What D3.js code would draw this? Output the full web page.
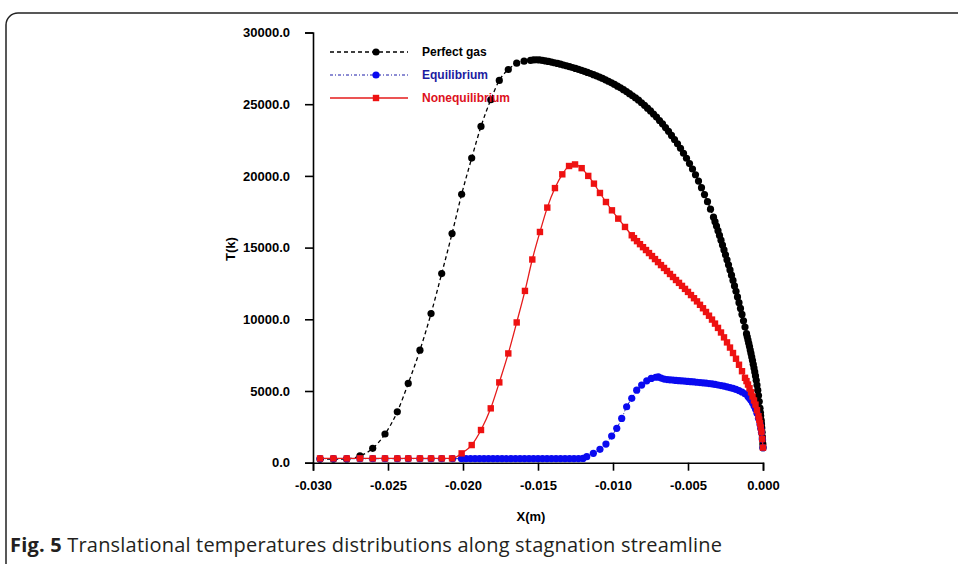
<!DOCTYPE html>
<html>
<head>
<meta charset="utf-8">
<script src="https://cdn.jsdelivr.net/npm/d3@7"></script>
<style>
  body { margin: 0; background: #fff; }
  svg { display: block; }
  .tick text { font-family: "Liberation Sans", Arial, sans-serif; font-weight: bold; font-size: 13px; fill: #000; }
</style>
</head>
<body>
<svg width="958" height="564"></svg>
<script>
// perfect gas (x in m, T in K)
let perfectX = [-0.02953, -0.02864, -0.02775, -0.02687, -0.02602, -0.0252, -0.02438, -0.02365, -0.02287, -0.02213,
  -0.02142, -0.02073, -0.02009, -0.01942, -0.0188, -0.01815, -0.01758, -0.01698, -0.01642, -0.01593,
  -0.0155, -0.0153, -0.0151, -0.0149, -0.0147, -0.0145, -0.0143, -0.0141, -0.0139, -0.0137,
  -0.0135, -0.0133, -0.0131, -0.0129, -0.0127, -0.0125, -0.0123, -0.0121, -0.0119, -0.0117,
  -0.0115, -0.0113, -0.0111, -0.0109, -0.0107, -0.0105, -0.0103, -0.0101, -0.0099, -0.0097,
  -0.0095, -0.0093, -0.0091, -0.0089, -0.0087, -0.0085, -0.0083, -0.0081, -0.0079, -0.0077,
  -0.0075, -0.0073, -0.0071, -0.0069, -0.0067, -0.0065, -0.0063, -0.0061, -0.0059, -0.0057,
  -0.0055, -0.0053, -0.0051, -0.0049, -0.0047, -0.0045, -0.0043, -0.0041, -0.0039, -0.0037,
  -0.0035, -0.0033, -0.0032, -0.0031, -0.003, -0.0029, -0.0028, -0.0027, -0.0026, -0.0025,
  -0.0024, -0.0023, -0.0022, -0.0021, -0.002, -0.0019, -0.0018, -0.0017, -0.0016, -0.0015,
  -0.0014, -0.0013, -0.0012, -0.0011, -0.00105, -0.001, -0.00095, -0.0009, -0.00085, -0.0008,
  -0.00075, -0.0007, -0.00065, -0.0006, -0.00055, -0.0005, -0.00045, -0.0004, -0.00035, -0.0003,
  -0.00025, -0.0002, -0.00017, -0.00015, -0.00012, -0.0001, -0.00008, -0.00006, -0.00004, -0.00003,
  -0.00001, 0];
let perfectT = [250, 250, 260, 470, 1000, 2000, 3550, 5530, 7850, 10400,
  13190, 15980, 18720, 21240, 23450, 25310, 26660, 27420, 27860, 28000,
  28060, 28085, 28100, 28090, 28060, 28020, 27980, 27935, 27890, 27840,
  27790, 27735, 27680, 27620, 27560, 27495, 27430, 27360, 27290, 27215,
  27140, 27060, 26980, 26890, 26800, 26700, 26600, 26490, 26380, 26260,
  26140, 26010, 25880, 25735, 25590, 25435, 25280, 25100, 24920, 24725,
  24530, 24315, 24100, 23865, 23630, 23370, 23110, 22825, 22540, 22240,
  21920, 21580, 21230, 20860, 20480, 20080, 19640, 19180, 18700, 18200,
  17680, 17120, 16810, 16500, 16180, 15850, 15520, 15180, 14840, 14500,
  14150, 13800, 13440, 13080, 12710, 12330, 11950, 11560, 11160, 10760,
  10340, 9900, 9460, 9000, 8780, 8550, 8330, 8100, 7860, 7620,
  7370, 7120, 6860, 6600, 6330, 6050, 5750, 5420, 5060, 4680,
  4260, 3800, 3500, 3280, 2950, 2700, 2420, 2120, 1800, 1580,
  1300, 1050];

// equilibrium
let equilX = [-0.02953, -0.02864, -0.02775, -0.02687, -0.02602, -0.0252, -0.02438, -0.02365, -0.02287, -0.02213,
  -0.02142, -0.0207, -0.0201, -0.0198, -0.0195, -0.0192, -0.0189, -0.0186, -0.0183, -0.018,
  -0.0177, -0.0174, -0.0171, -0.0168, -0.0165, -0.0162, -0.0159, -0.0156, -0.0153, -0.015,
  -0.0147, -0.0144, -0.0141, -0.0138, -0.0135, -0.0132, -0.0129, -0.0126, -0.0123, -0.012,
  -0.01175, -0.01131, -0.01087, -0.01047, -0.01009, -0.00975, -0.00942, -0.00909, -0.00875, -0.00842,
  -0.00809, -0.00775, -0.00745, -0.00715, -0.00698, -0.0068, -0.0066, -0.0064, -0.0062, -0.006,
  -0.0058, -0.0056, -0.0054, -0.0052, -0.005, -0.0048, -0.0046, -0.0044, -0.0042, -0.004,
  -0.0038, -0.0036, -0.0034, -0.0032, -0.003, -0.0028, -0.0026, -0.0024, -0.0022, -0.002,
  -0.0018, -0.0016, -0.0014, -0.0012, -0.001, -0.0009, -0.0008, -0.0007, -0.0006, -0.0005,
  -0.0004, -0.0003, -0.0002, -0.00015, -0.0001, -0.00005, 0];
let equilT = [280, 280, 280, 280, 280, 280, 280, 280, 280, 280,
  280, 280, 280, 280, 280, 280, 280, 280, 280, 280,
  280, 280, 280, 280, 280, 280, 280, 280, 280, 280,
  280, 280, 280, 280, 280, 280, 280, 280, 290, 300,
  420, 655, 930, 1300, 1860, 2400, 3090, 3900, 4490, 5060,
  5410, 5710, 5880, 5960, 5990, 5900, 5830, 5800, 5780, 5760,
  5740, 5720, 5700, 5690, 5670, 5650, 5630, 5610, 5590, 5570,
  5550, 5520, 5490, 5460, 5420, 5380, 5340, 5290, 5240, 5180,
  5110, 5030, 4930, 4800, 4620, 4500, 4350, 4180, 3980, 3750,
  3450, 3100, 2700, 2400, 2100, 1650, 1050];

// nonequilibrium
let noneqX = [-0.02953, -0.02864, -0.02775, -0.02687, -0.02602, -0.0252, -0.02438, -0.02365, -0.02287, -0.02213,
  -0.02142, -0.02073, -0.02009, -0.01942, -0.0188, -0.01815, -0.01758, -0.01698, -0.01642, -0.01587,
  -0.01538, -0.01487, -0.01438, -0.01387, -0.01338, -0.01293, -0.01253, -0.01209, -0.01165, -0.01127,
  -0.01087, -0.01047, -0.01007, -0.00965, -0.0092, -0.00875, -0.0086, -0.0084, -0.0082, -0.008,
  -0.0078, -0.0076, -0.0074, -0.0072, -0.007, -0.0068, -0.0066, -0.0064, -0.0062, -0.006,
  -0.0058, -0.0056, -0.0054, -0.0052, -0.005, -0.0048, -0.0046, -0.0044, -0.0042, -0.004,
  -0.0038, -0.0036, -0.0034, -0.0032, -0.003, -0.0028, -0.0026, -0.0024, -0.0022, -0.002,
  -0.0018, -0.0016, -0.0014, -0.0012, -0.0011, -0.001, -0.0009, -0.0008, -0.0007, -0.0006,
  -0.0005, -0.0004, -0.0003, -0.00025, -0.0002, -0.00015, -0.0001, -0.00005, 0];
let noneqT = [300, 300, 300, 300, 300, 300, 300, 300, 300, 300,
  300, 300, 650, 1230, 2280, 3790, 5600, 7620, 9780, 11980,
  14170, 16090, 17790, 19150, 20110, 20690, 20800, 20540, 20000, 19460,
  18810, 18180, 17600, 17020, 16440, 15860, 15660, 15450, 15240, 15030,
  14830, 14620, 14410, 14200, 13990, 13780, 13580, 13370, 13160, 12950,
  12740, 12540, 12330, 12120, 11910, 11690, 11470, 11250, 11010, 10770,
  10510, 10250, 9980, 9700, 9400, 9080, 8740, 8390, 8030, 7650,
  7250, 6830, 6380, 5920, 5690, 5450, 5190, 4910, 4620, 4340,
  4050, 3660, 3240, 3000, 2750, 2460, 2130, 1650, 1050];

let xTicks = [-0.030, -0.025, -0.020, -0.015, -0.010, -0.005, 0.000];
let yTicks = [0, 5000, 10000, 15000, 20000, 25000, 30000];
let seriesNames = ["Perfect gas", "Equilibrium", "Nonequilibrium"];
let caption = "Translational temperatures distributions along stagnation streamline";

let svg = d3.select("svg");
let font = '"Liberation Sans", Arial, sans-serif';

// frame round the figure
svg.append("rect")
  .attr("x", 6).attr("y", 13)
  .attr("width", 980).attr("height", 600)
  .attr("rx", 12)
  .attr("fill", "none")
  .attr("stroke", "#222")
  .attr("stroke-width", 1.5);

let x = d3.scaleLinear().domain([-0.030, 0]).range([313, 763]);
let y = d3.scaleLinear().domain([0, 30000]).range([462.7, 32.5]);

let styles = [
  { line: "#000", dash: "4,3", mark: "#000", shape: "circle", text: "#000", width: 1.3 },
  { line: "#1a1aa8", dash: "3,2,1,2", mark: "#0a0af0", shape: "circle", text: "#1c1ca0", width: 1 },
  { line: "#e51b1b", dash: null, mark: "#ee1111", shape: "square", text: "#dd1020", width: 1.3 },
];

let series = [
  perfectX.map((d, i) => [d, perfectT[i]]),
  equilX.map((d, i) => [d, equilT[i]]),
  noneqX.map((d, i) => [d, noneqT[i]]),
];

// axes
let xAxis = svg.append("g")
  .attr("transform", "translate(0,462.7)")
  .call(d3.axisBottom(x).tickValues(xTicks).tickSize(8).tickPadding(10).tickFormat(d => d.toFixed(3)));
let yAxis = svg.append("g")
  .attr("transform", "translate(313,0)")
  .call(d3.axisLeft(y).tickValues(yTicks).tickSize(8).tickPadding(15).tickFormat(d => d.toFixed(1)));

[xAxis, yAxis].forEach(a => {
  a.select(".domain").attr("stroke", "#000").attr("stroke-width", 1.6);
  a.selectAll(".tick line").attr("stroke", "#000").attr("stroke-width", 1.6);
});

let line = d3.line().x(d => x(d[0])).y(d => y(d[1])).curve(d3.curveMonotoneX);

function marker(sel, s, cx, cy) {
  if (s.shape == "circle") {
    sel.append("circle").attr("cx", cx).attr("cy", cy).attr("r", 3.6).attr("fill", s.mark);
  } else {
    sel.append("rect").attr("x", cx - 3.2).attr("y", cy - 3.2).attr("width", 6.4).attr("height", 6.4).attr("fill", s.mark);
  }
}

// draw order: perfect gas, equilibrium, then nonequilibrium on top
series.forEach((data, k) => {
  let s = styles[k];
  let g = svg.append("g");
  g.append("path")
    .attr("d", line(data))
    .attr("fill", "none")
    .attr("stroke", s.line)
    .attr("stroke-width", s.width)
    .attr("stroke-dasharray", s.dash);
  data.forEach(d => marker(g, s, x(d[0]), y(d[1])));
});

// legend
let legendY = [52, 75, 98];
seriesNames.forEach((name, k) => {
  let s = styles[k];
  let g = svg.append("g");
  g.append("line")
    .attr("x1", 330).attr("x2", 408)
    .attr("y1", legendY[k]).attr("y2", legendY[k])
    .attr("stroke", s.line)
    .attr("stroke-width", s.width)
    .attr("stroke-dasharray", s.dash);
  marker(g, s, 376, legendY[k]);
  g.append("text")
    .attr("x", 422).attr("y", legendY[k])
    .attr("dy", "0.35em")
    .attr("font-family", font)
    .attr("font-weight", "bold")
    .attr("font-size", 12)
    .attr("fill", s.text)
    .text(name);
});

// axis titles
svg.append("text")
  .attr("x", 531).attr("y", 521)
  .attr("text-anchor", "middle")
  .attr("font-family", font).attr("font-weight", "bold").attr("font-size", 13)
  .text("X(m)");
svg.append("text")
  .attr("transform", "translate(235,249) rotate(-90)")
  .attr("text-anchor", "middle")
  .attr("font-family", font).attr("font-weight", "bold").attr("font-size", 13)
  .text("T(k)");

// caption
let cap = svg.append("text")
  .attr("x", 10).attr("y", 552)
  .attr("font-family", '"Open Sans", sans-serif')
  .attr("font-size", 20)
  .attr("fill", "#231f20");
cap.append("tspan").attr("font-weight", "bold").text("Fig. 5");
cap.append("tspan").text(" " + caption);
// stretch to the width the caption has in the figure
cap.attr("textLength", 712).attr("lengthAdjust", "spacing");
</script>
</body>
</html>
